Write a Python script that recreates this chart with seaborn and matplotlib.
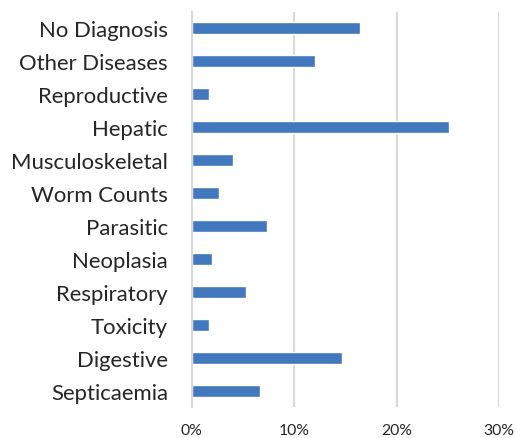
import matplotlib
matplotlib.use("Agg")
import matplotlib.pyplot as plt
import seaborn as sns
import pandas as pd
from matplotlib.ticker import PercentFormatter

categories = ["No Diagnosis", "Other Diseases", "Reproductive", "Hepatic",
              "Musculoskeletal", "Worm Counts", "Parasitic", "Neoplasia",
              "Respiratory", "Toxicity", "Digestive", "Septicaemia"]
shares = [0.164, 0.1205, 0.017, 0.251, 0.040, 0.0266, 0.0737, 0.020,
          0.0532, 0.0165, 0.147, 0.0666]
x_ticks = [0.0, 0.10, 0.20, 0.30]

df = pd.DataFrame({"category": categories, "share": shares})

sns.set_style("white")
plt.rcParams["font.family"] = ["Lato", "DejaVu Sans"]
text_color = "#262626"

fig = plt.figure(figsize=(5.16, 4.39), dpi=100)
ax = fig.add_axes([0.3715, 0.0695, 0.5961, 0.902])

sns.barplot(data=df, x="share", y="category", order=categories,
            color="#4178BE", saturation=1, width=0.36, ax=ax)

ax.set_xlim(0, 0.30)
ax.set_xticks(x_ticks)
ax.xaxis.set_major_formatter(PercentFormatter(1.0, decimals=0))
ax.set_xlabel("")
ax.set_ylabel("")

ax.grid(axis="x", color="#D9D9D9", linewidth=1.5)
ax.set_axisbelow(True)
for side in ["top", "right", "bottom"]:
    ax.spines[side].set_visible(False)
ax.spines["left"].set_color("#D9D9D9")
ax.spines["left"].set_linewidth(1.5)

ax.tick_params(axis="y", length=0, pad=17, labelsize=15.9, labelcolor=text_color)
ax.tick_params(axis="x", length=0, pad=11, labelsize=11.3, labelcolor=text_color)

fig.savefig("out.png", dpi=100)
